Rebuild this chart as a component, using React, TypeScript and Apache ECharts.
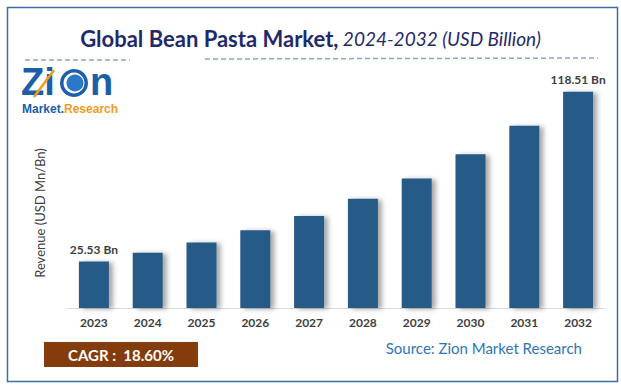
import React, { useEffect, useRef } from "react";
import * as echarts from "echarts";

const years = ["2023", "2024", "2025", "2026", "2027", "2028", "2029", "2030", "2031", "2032"];
const revenue = [25.53, 30.3, 35.9, 42.6, 50.5, 59.9, 71.0, 84.3, 99.9, 118.51];
const labelled = ["2023", "2032"];
const titleMain = "Global Bean Pasta Market,";
const titleSub = "2024-2032 (USD Billion)";
const cagrText = "CAGR :  18.60%";
const sourceText = "Source: Zion Market Research";
const yAxisName = "Revenue (USD Mn/Bn)";

export default function App() {
  const ref = useRef<HTMLDivElement>(null);
  useEffect(() => {
    if (!ref.current) return;
    const chart = echarts.init(ref.current, undefined, { renderer: "svg" });
    const font = "Lato, 'Open Sans', sans-serif";
    const logoFont = "'Liberation Sans', Arial, sans-serif";
    chart.setOption({
      animation: false,
      backgroundColor: "#ffffff",
      textStyle: { fontFamily: font },
      title: {
        text: `{a|${titleMain}} {b|${titleSub}}`,
        left: "center",
        top: 22,
        textStyle: {
          rich: {
            a: { fontFamily: font, fontSize: 22, fontWeight: "bold", color: "#1f2a6b" },
            b: { fontFamily: font, fontSize: 19, fontStyle: "italic", fontWeight: "normal", color: "#1f2a6b" },
          },
        },
      },
      grid: { left: 67, right: 16, top: 80, bottom: 81, containLabel: false },
      xAxis: {
        type: "category",
        data: years,
        axisLine: { lineStyle: { color: "#d9d9d9", width: 1 } },
        axisTick: { show: false },
        axisLabel: { color: "#404040", fontWeight: "bold", fontSize: 12, margin: 8, fontFamily: font },
      },
      yAxis: {
        type: "value",
        min: 0,
        max: 125,
        axisLine: { show: false },
        axisTick: { show: false },
        axisLabel: { show: false },
        splitLine: { show: false },
      },
      series: [
        {
          type: "bar",
          barWidth: 30,
          data: revenue.map((v, i) => ({
            value: v,
            label: {
              show: labelled.includes(years[i]),
              position: "top",
              distance: 6,
              formatter: `${v.toFixed(2)} Bn`,
              color: "#404040",
              fontWeight: "bold",
              fontSize: 12,
              fontFamily: font,
            },
          })),
          itemStyle: {
            color: "#275a87",
            shadowColor: "rgba(0,0,0,0.35)",
            shadowBlur: 5,
            shadowOffsetX: 4,
            shadowOffsetY: 1,
          },
        },
      ],
      graphic: [
        {
          type: "rect",
          shape: { x: 7.5, y: 7.5, width: 610, height: 374 },
          style: { fill: "none", stroke: "#3a6ea5", lineWidth: 1.5 },
          silent: true,
        },
        {
          type: "line",
          shape: { x1: 205, y1: 59, x2: 598, y2: 58 },
          style: { stroke: "#8aa8d8", lineWidth: 1.5, lineDash: [5, 3] },
        },
        {
          type: "line",
          shape: { x1: 25, y1: 60, x2: 130, y2: 60 },
          style: { stroke: "#8aa8d8", lineWidth: 1.5, lineDash: [5, 3] },
        },
        {
          type: "text",
          x: 40,
          y: 213,
          rotation: Math.PI / 2,
          style: {
            text: yAxisName,
            fill: "#404040",
            font: `13px ${font}`,
            textAlign: "center",
            textVerticalAlign: "middle",
          },
        },
        // logo
        {
          type: "text",
          x: 21,
          y: 82,
          style: {
            text: "Zi",
            font: `bold 38px ${logoFont}`,
            fill: "#1a5fa8",
            textVerticalAlign: "middle",
          },
        },
        {
          type: "circle",
          shape: { cx: 74, cy: 83, r: 14 },
          style: { fill: "#1a5fa8" },
        },
        {
          type: "circle",
          shape: { cx: 74, cy: 83, r: 10.5 },
          style: { fill: "#ffffff" },
        },
        {
          type: "circle",
          shape: { cx: 75, cy: 83, r: 8.5 },
          style: { fill: "#2a78c8" },
        },
        {
          type: "text",
          x: 90,
          y: 82,
          style: {
            text: "n",
            font: `bold 38px ${logoFont}`,
            fill: "#1a5fa8",
            textVerticalAlign: "middle",
          },
        },
        {
          type: "line",
          shape: { x1: 34, y1: 97, x2: 54, y2: 70 },
          style: { stroke: "#f29a1f", lineWidth: 2.5 },
        },
        {
          type: "text",
          left: 22,
          top: 103,
          style: {
            text: "{m|Market}{d|.}{r|Research}",
            rich: {
              m: { font: `bold 12px ${logoFont}`, fill: "#1a5fa8" },
              d: { font: `bold 12px ${logoFont}`, fill: "#1a5fa8" },
              r: { font: `bold 12px ${logoFont}`, fill: "#f29a1f" },
            },
          },
        },
        // CAGR box
        {
          type: "rect",
          shape: { x: 44, y: 342, width: 154, height: 25 },
          style: { fill: "#843c0c" },
        },
        {
          type: "text",
          x: 121,
          y: 354.5,
          style: {
            text: cagrText,
            fill: "#ffffff",
            font: `bold 15px ${font}`,
            textAlign: "center",
            textVerticalAlign: "middle",
          },
        },
        {
          type: "text",
          x: 582,
          y: 348,
          style: {
            text: sourceText,
            fill: "#2e75b6",
            font: `15px ${font}`,
            textAlign: "right",
            textVerticalAlign: "middle",
          },
        },
      ],
    });
    return () => chart.dispose();
  }, []);
  return (
    <div
      ref={ref}
      style={{ position: "absolute", left: 0, top: 0, width: 621, height: 389 }}
    />
  );
}
